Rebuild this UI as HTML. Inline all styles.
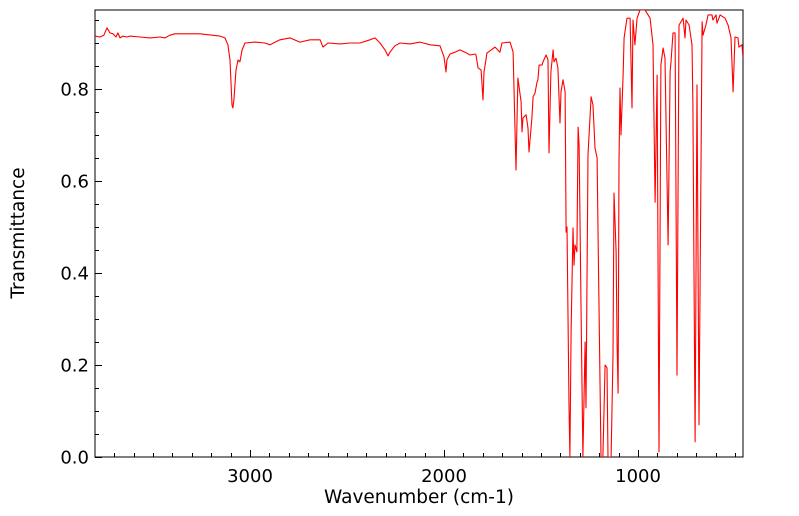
<!DOCTYPE html>
<html><head><meta charset="utf-8"><style>
body{margin:0;background:#fff;}
svg{display:block;font-family:"DejaVu Sans","Liberation Sans",sans-serif;}
</style></head><body>
<svg id="chart" width="799" height="516" viewBox="0 0 799 516" xmlns="http://www.w3.org/2000/svg">
<defs><clipPath id="pc"><rect x="95" y="10" width="648" height="447"/></clipPath></defs>
<rect x="95" y="10" width="648" height="447" fill="#fff" stroke="#000" stroke-width="1"/>
<g id="ticks"></g>
<path id="line" clip-path="url(#pc)" fill="none" stroke="#ff0000" stroke-width="1.1" stroke-linejoin="round"/>
<text x="419" y="503" font-size="18.5" text-anchor="middle">Wavenumber (cm-1)</text>
<text transform="translate(24,233) rotate(-90)" font-size="18.5" text-anchor="middle">Transmittance</text>
</svg>
<script>
const wavenumbers=[3799,3774,3753,3737,3722,3706,3691,3681,3670,3655,3634,3619,3567,3516,3464,3438,3413,3387,3258,3155,3129,3114,3103,3093,3088,3083,3072,3062,3052,3041,3026,2974,2923,2897,2846,2794,2743,2691,2639,2624,2598,2536,2485,2433,2382,2356,2330,2304,2289,2279,2253,2227,2175,2124,2072,2021,2000,1990,1985,1969,1944,1918,1892,1866,1840,1835,1825,1809,1799,1794,1784,1779,1737,1712,1701,1660,1650,1644,1629,1619,1603,1598,1593,1577,1567,1562,1547,1541,1531,1521,1516,1510,1495,1490,1474,1464,1459,1449,1438,1433,1423,1413,1402,1397,1387,1376,1371,1366,1356,1351,1345,1335,1330,1325,1315,1309,1304,1294,1284,1273,1268,1258,1242,1232,1222,1211,1206,1191,1181,1170,1160,1155,1139,1129,1124,1113,1108,1103,1098,1093,1088,1077,1072,1057,1041,1031,1026,1016,1005,990,964,938,923,912,902,892,882,871,861,845,835,830,820,809,799,789,768,758,753,737,722,717,706,696,686,670,665,650,639,619,614,598,593,577,552,536,521,510,500,485,480,464,459];
const transmittance=[.915,.913,.917,.933,.922,.920,.913,.922,.911,.915,.913,.915,.913,.911,.913,.911,.917,.920,.920,.915,.911,.896,.863,.765,.759,.776,.841,.863,.859,.885,.900,.902,.900,.896,.907,.911,.902,.907,.907,.891,.900,.898,.900,.900,.907,.911,.900,.885,.872,.880,.894,.900,.898,.902,.896,.894,.870,.837,.863,.876,.880,.885,.880,.874,.876,.874,.846,.841,.776,.837,.863,.878,.891,.880,.900,.902,.889,.880,.624,.824,.772,.707,.737,.744,.715,.663,.737,.783,.791,.815,.820,.852,.852,.859,.874,.863,.661,.837,.885,.859,.867,.846,.726,.794,.820,.794,.489,.500,.113,0,.272,.498,.417,.461,.446,.717,.678,.330,0,.250,.107,.657,.783,.765,.672,.650,.476,0,0,.200,.194,0,0,.222,.574,.446,.244,.139,.641,.802,.700,.830,.911,.954,.954,.759,.950,.896,.954,.972,.972,.954,.896,.554,.830,.011,.852,.889,.867,.461,.837,.859,.922,.922,.178,.939,.954,.911,.950,.939,.896,.765,.033,.809,.070,.946,.917,.939,.961,.961,.950,.961,.943,.961,.954,.939,.911,.794,.913,.911,.891,.896,.867];
const xMajorTicks=[3000,2000,1000];
const yMajorTicks=[0,0.2,0.4,0.6,0.8];
const NS="http://www.w3.org/2000/svg";
const L=95,R=743,T=10,B=457,WMAX=3799,WMIN=459;
function sx(w){return L+(WMAX-w)/(WMAX-WMIN)*(R-L);}
function sy(t){return B-t*460;}
let d="";
for(let i=0;i<wavenumbers.length;i++){d+=(i?"L":"M")+sx(wavenumbers[i]).toFixed(1)+","+sy(transmittance[i]).toFixed(1);}
document.getElementById("line").setAttribute("d",d);
const g=document.getElementById("ticks");
function ln(x1,y1,x2,y2,name){const l=document.createElementNS(NS,"line");l.setAttribute("x1",x1);l.setAttribute("y1",y1);l.setAttribute("x2",x2);l.setAttribute("y2",y2);l.setAttribute("stroke","#000");


g.appendChild(l);}
function tx(x,y,s,anchor,name){const t=document.createElementNS(NS,"text");t.setAttribute("x",x);t.setAttribute("y",y);t.setAttribute("font-size","18");t.setAttribute("text-anchor",anchor);t.textContent=s;


g.appendChild(t);}
for(let w=500;w<=3700;w+=100){const x=Math.round(sx(w))+0.5;const major=w%1000===0;ln(x,B,x,B-(major?7:4),major?"x-major-tick":"x-minor-tick");}
xMajorTicks.forEach(w=>tx(sx(w),482,String(w),"middle","x-tick-label"));
for(let k=0;k<=19;k++){const t=k*0.05;const y=Math.round(sy(t))+0.5;if(y<T)continue;const major=k%4===0;ln(L,y,L+(major?7:4),y,major?"y-major-tick":"y-minor-tick");}
yMajorTicks.forEach(t=>tx(89,sy(t)+6.5,t.toFixed(1),"end","y-tick-label"));
</script>
</body></html>
